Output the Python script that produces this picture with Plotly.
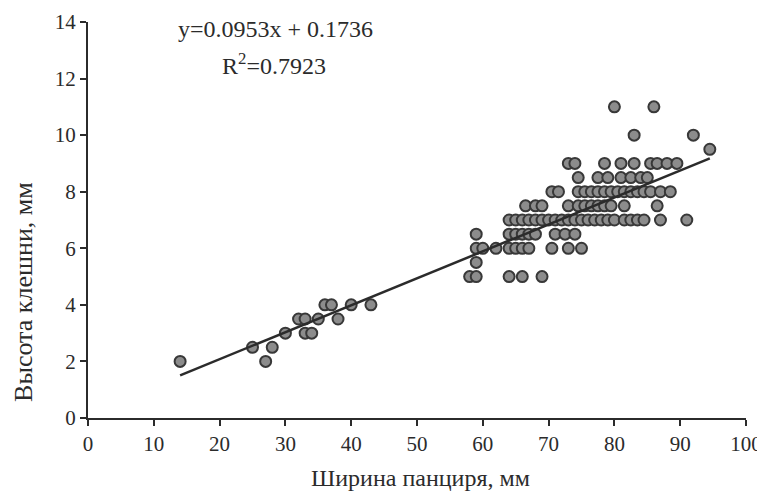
import plotly.graph_objects as go

# ---- data ----
width_left = [14, 25, 27, 28, 30, 32, 33, 33, 34, 35, 36, 37, 38, 40, 43]
height_left = [2, 2.5, 2, 2.5, 3, 3.5, 3.5, 3, 3, 3.5, 4, 4, 3.5, 4, 4]

row_5 = [58, 59, 64, 66, 69]
row_5_5 = [59]
row_6 = [59, 60, 62, 64, 65, 66, 67, 70.5, 73, 75]
row_6_5 = [59, 64, 65, 66, 67, 68, 71, 72.5, 74]
row_7 = [64, 65, 66, 67, 68, 69, 70, 71, 72, 73, 74, 75, 76, 77, 78, 79, 80,
         81.5, 82.5, 83.5, 84.5, 87, 91]
row_7_5 = [66.5, 68, 69, 73, 74.5, 75.5, 76.5, 77.5, 78.5, 79.5, 81.5, 86.5]
row_8 = [70.5, 71.5, 74.5, 75.5, 76.5, 77.5, 78.5, 79.5, 80.5, 81.5, 82.5,
         83.5, 84.5, 85.5, 87, 88.5]
row_8_5 = [74.5, 77.5, 79, 81, 82.5, 84, 85]
row_9 = [73, 74, 78.5, 81, 83, 85.5, 86.5, 88, 89.5]
row_9_5 = [94.5]
row_10 = [83, 92]
row_11 = [80, 86]

rows = {5: row_5, 5.5: row_5_5, 6: row_6, 6.5: row_6_5, 7: row_7, 7.5: row_7_5,
        8: row_8, 8.5: row_8_5, 9: row_9, 9.5: row_9_5, 10: row_10, 11: row_11}

slope = 0.0953
intercept = 0.1736
r_squared = 0.7923

x_ticks = [0, 10, 20, 30, 40, 50, 60, 70, 80, 90, 100]
y_ticks = [0, 2, 4, 6, 8, 10, 12, 14]

x_title = "Ширина панциря, мм"
y_title = "Высота клешни, мм"

# ---- build series ----
xs = list(width_left)
ys = list(height_left)
for yv, xr in rows.items():
    xs += xr
    ys += [yv] * len(xr)

x_min, x_max = min(xs), max(xs)
trend_x = [x_min, x_max]
trend_y = [slope * v + intercept for v in trend_x]

FONT = "Liberation Serif"
DARK = "#2b2b2b"

fig = go.Figure()
fig.add_trace(go.Scatter(
    x=xs, y=ys, mode="markers",
    marker=dict(size=11, color="#8c8c8c", line=dict(color="#383838", width=2)),
    showlegend=False, hoverinfo="x+y"))
fig.add_trace(go.Scatter(
    x=trend_x, y=trend_y, mode="lines",
    line=dict(color=DARK, width=2.5), showlegend=False))

fig.add_annotation(x=0.285, y=0.982, xref="paper", yref="paper",
                   text=f"y={slope}x + {intercept}", showarrow=False,
                   font=dict(family=FONT, size=24, color=DARK),
                   xanchor="center", yanchor="middle")
fig.add_annotation(x=0.283, y=0.893, xref="paper", yref="paper",
                   text=f"R<sup>2</sup>={r_squared}", showarrow=False,
                   font=dict(family=FONT, size=24, color=DARK),
                   xanchor="center", yanchor="middle")
# axis titles
fig.add_annotation(x=0.505, y=-0.152, xref="paper", yref="paper",
                   text=x_title, showarrow=False,
                   font=dict(family=FONT, size=24, color=DARK),
                   xanchor="center", yanchor="middle")
fig.add_annotation(x=-0.099, y=0.318, xref="paper", yref="paper",
                   text=y_title, showarrow=False, textangle=-90,
                   font=dict(family=FONT, size=26, color=DARK),
                   xanchor="center", yanchor="middle")

# the page body has an 8px margin, so the figure is sized and offset for it
fig.update_layout(
    width=757, height=484,
    margin=dict(l=80, r=19, t=14, b=74, autoexpand=False),
    paper_bgcolor="white", plot_bgcolor="white",
    font=dict(family=FONT, size=21, color=DARK),
    xaxis=dict(range=[0, 100], tickvals=x_ticks, ticktext=[str(v) for v in x_ticks],
               showgrid=False, zeroline=False, showline=True, linecolor=DARK,
               linewidth=2, ticks="outside", ticklen=6, tickwidth=1.5,
               tickcolor=DARK, automargin=False),
    yaxis=dict(range=[0, 14], tickvals=y_ticks, ticktext=[str(v) for v in y_ticks],
               showgrid=False, zeroline=False, showline=True, linecolor=DARK,
               linewidth=2, ticks="outside", ticklen=6, tickwidth=1.5,
               tickcolor=DARK, automargin=False),
)

fig.write_html("out.html")
